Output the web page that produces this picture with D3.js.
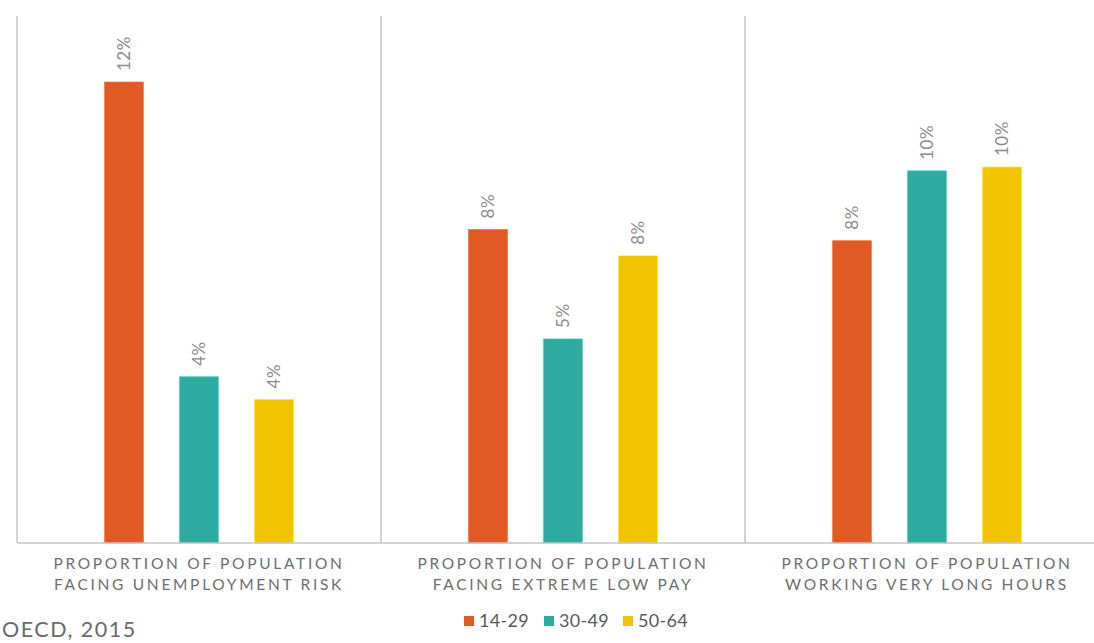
<!DOCTYPE html>
<html>
<head>
<meta charset="utf-8">
<script src="https://cdn.jsdelivr.net/npm/d3@7"></script>
<style>
  html, body { margin: 0; padding: 0; background: #fff; }
  svg { display: block; }
  text { font-family: Lato, "Open Sans", sans-serif; }
</style>
</head>
<body>
<svg id="chart" width="1094" height="643"></svg>
<script>
// Indicators (one panel each) and age groups
const categories = [
  ["PROPORTION OF POPULATION", "FACING UNEMPLOYMENT RISK"],
  ["PROPORTION OF POPULATION", "FACING EXTREME LOW PAY"],
  ["PROPORTION OF POPULATION", "WORKING VERY LONG HOURS"]
];
const seriesNames = ["14-29", "30-49", "50-64"];
const seriesColors = ["#E15A26", "#2EAAA0", "#F2C300"];

// Share of population, percent, per age group
const values1429 = [12.2, 8.3, 8.0];
const values3049 = [4.4, 5.4, 9.85];
const values5064 = [3.8, 7.6, 9.95];
const yDomain = [0, 14];
const sourceNote = "OECD, 2015";

const seriesValues = [values1429, values3049, values5064];

const svg = d3.select("#chart");
const margin = { left: 17, top: 14, baseline: 543 };
const panelWidth = 364;

const x0 = d3.scaleBand()
  .domain(d3.range(categories.length))
  .range([margin.left, margin.left + panelWidth * categories.length])
  .paddingInner(0).paddingOuter(0);

const x1 = d3.scaleBand()
  .domain(seriesNames)
  .range([0, x0.bandwidth()])
  .paddingInner(0.48)
  .paddingOuter(1.167);

const y = d3.scaleLinear().domain(yDomain).range([margin.baseline, margin.top]);

const fmt = d3.format(".0%");

// Panel dividers and left axis line
svg.append("g").selectAll("line")
  .data(d3.range(categories.length))
  .join("line")
  .attr("x1", d => x0(d)).attr("x2", d => x0(d))
  .attr("y1", y(yDomain[1]) + 2).attr("y2", margin.baseline)
  .attr("stroke", "#c4c4c4").attr("stroke-width", 1.5);

// Bars
const groups = svg.append("g").selectAll("g")
  .data(d3.range(categories.length))
  .join("g")
  .attr("transform", d => `translate(${x0(d)},0)`);

groups.selectAll("rect")
  .data(ci => seriesNames.map((s, si) => ({ s, si, v: seriesValues[si][ci] })))
  .join("rect")
  .attr("x", d => x1(d.s))
  .attr("width", x1.bandwidth())
  .attr("y", d => y(d.v))
  .attr("height", d => y(0) - y(d.v))
  .attr("fill", d => seriesColors[d.si])
  .attr("stroke", d => d3.color(seriesColors[d.si]).brighter(0.6))
  .attr("stroke-width", 0.6);

// Rotated value labels above each bar
groups.selectAll("text.val")
  .data(ci => seriesNames.map((s, si) => ({ s, si, v: seriesValues[si][ci] })))
  .join("text")
  .attr("class", "val")
  .attr("transform", d => `translate(${x1(d.s) + x1.bandwidth() / 2 + 6},${y(d.v) - 11}) rotate(-90)`)
  .attr("text-anchor", "start")
  .attr("font-size", 17)
  .attr("letter-spacing", 0.5)
  .attr("fill", "#8c8c8c")
  .text(d => fmt(d.v / 100));

// Baseline
svg.append("line")
  .attr("x1", margin.left).attr("x2", 1094)
  .attr("y1", margin.baseline).attr("y2", margin.baseline)
  .attr("stroke", "#c4c4c4").attr("stroke-width", 1.5);

// Category labels
const catText = svg.append("g").selectAll("text")
  .data(categories)
  .join("text")
  .attr("x", (d, i) => x0(i) + x0.bandwidth() / 2)
  .attr("y", 569)
  .attr("text-anchor", "middle")
  .attr("font-size", 15.5)
  .attr("letter-spacing", 2.7)
  .attr("fill", "#6e6e6e");
catText.selectAll("tspan")
  .data(d => d)
  .join("tspan")
  .attr("x", function () { return this.parentNode.getAttribute("x"); })
  .attr("dy", (d, i) => i === 0 ? 0 : 21)
  .text(d => d);

// Legend
const legendX = [464, 544, 623];
const legend = svg.append("g").selectAll("g")
  .data(seriesNames)
  .join("g")
  .attr("transform", (d, i) => `translate(${legendX[i]},616)`);
legend.append("rect")
  .attr("width", 10).attr("height", 10)
  .attr("fill", (d, i) => seriesColors[i]);
legend.append("text")
  .attr("x", 15).attr("y", 11)
  .attr("font-size", 18)
  .attr("letter-spacing", 0.3)
  .attr("fill", "#595959")
  .text(d => d);

// Source note
svg.append("text")
  .attr("x", 2).attr("y", 637)
  .attr("font-size", 21.5)
  .attr("letter-spacing", 1.5)
  .attr("fill", "#6a6a6a")
  .text(sourceNote);
</script>
</body>
</html>
